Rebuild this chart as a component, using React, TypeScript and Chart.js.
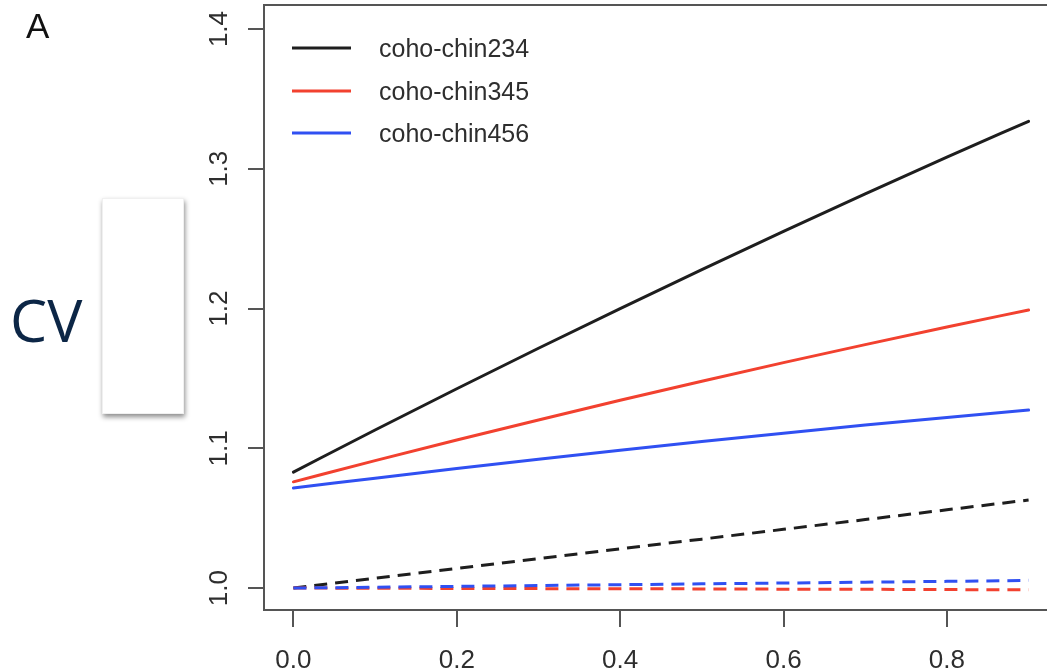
import React, { useEffect, useRef } from "react";
import { Chart, registerables } from "chart.js";

Chart.register(...registerables);

const X_VALUES = [0, 0.1, 0.2, 0.3, 0.4, 0.5, 0.6, 0.7, 0.8, 0.9];
const SOLID_234 = [1.083, 1.1131, 1.1426, 1.1716, 1.2, 1.2279, 1.2552, 1.2821, 1.3083, 1.334];
const SOLID_345 = [1.076, 1.0912, 1.1059, 1.1203, 1.1344, 1.148, 1.1613, 1.1742, 1.1868, 1.199];
const SOLID_456 = [1.0716, 1.0786, 1.0856, 1.0922, 1.0986, 1.1048, 1.1108, 1.1166, 1.1221, 1.1274];
const DASH_234 = [1.0, 1.007, 1.014, 1.021, 1.028, 1.035, 1.042, 1.049, 1.056, 1.063];
const DASH_345 = [1.0, 0.9999, 0.9997, 0.9996, 0.9995, 0.9994, 0.9992, 0.9991, 0.9989, 0.9988];
const DASH_456 = [1.0, 1.0006, 1.0012, 1.0018, 1.0024, 1.003, 1.0036, 1.0042, 1.0048, 1.0055];
const SERIES_LABELS = ["coho-chin234", "coho-chin345", "coho-chin456"];
const SERIES_COLORS = ["#1e1e1e", "#f2412f", "#3050f2"];
const X_TICKS = [0, 0.2, 0.4, 0.6, 0.8];
const Y_TICKS = [1.0, 1.1, 1.2, 1.3, 1.4];
const PANEL_LETTER = "A";
const Y_TITLE = "CV";

const RFONT = '"Liberation Sans", Arial, Helvetica, sans-serif';

const pts = (ys: number[]) => X_VALUES.map((x, i) => ({ x, y: ys[i] }));

const decorPlugin = {
  id: "decor",
  afterDatasetsDraw(chart: any) {
    const ctx = chart.ctx as CanvasRenderingContext2D;
    const { left, right, top, bottom } = chart.chartArea;
    const xs = chart.scales.x;
    const ys = chart.scales.y;
    ctx.save();
    // box
    ctx.strokeStyle = "#555";
    ctx.lineWidth = 2;
    ctx.strokeRect(left, top, right - left, bottom - top);
    // axis ticks
    ctx.beginPath();
    X_TICKS.forEach((v) => {
      const px = Math.round(xs.getPixelForValue(v));
      ctx.moveTo(px, bottom);
      ctx.lineTo(px, bottom + 17);
    });
    Y_TICKS.forEach((v) => {
      const py = Math.round(ys.getPixelForValue(v));
      ctx.moveTo(left, py);
      ctx.lineTo(left - 16, py);
    });
    ctx.stroke();
    // tick labels
    ctx.fillStyle = "#2e2e2e";
    ctx.font = `26px ${RFONT}`;
    ctx.textAlign = "center";
    ctx.textBaseline = "alphabetic";
    X_TICKS.forEach((v) => {
      ctx.fillText(v.toFixed(1), xs.getPixelForValue(v), 668);
    });
    Y_TICKS.forEach((v) => {
      ctx.save();
      ctx.translate(227, ys.getPixelForValue(v));
      ctx.rotate(-Math.PI / 2);
      ctx.fillText(v.toFixed(1), 0, 0);
      ctx.restore();
    });
    // legend
    const legendY = [48, 91, 133];
    ctx.textAlign = "left";
    ctx.font = `25px ${RFONT}`;
    SERIES_LABELS.forEach((lab, i) => {
      ctx.strokeStyle = SERIES_COLORS[i];
      ctx.lineWidth = 3;
      ctx.beginPath();
      ctx.moveTo(292, legendY[i]);
      ctx.lineTo(351, legendY[i]);
      ctx.stroke();
      ctx.fillStyle = "#2e2e2e";
      ctx.fillText(lab, 379, legendY[i] + 9);
    });
    // panel letter
    ctx.fillStyle = "#111";
    ctx.font = `35px ${RFONT}`;
    ctx.fillText(PANEL_LETTER, 26, 38);
    // y title
    ctx.fillStyle = "#0c2646";
    ctx.font = `59px "Open Sans", "Noto Sans", sans-serif`;
    ctx.fillText(Y_TITLE, 10, 342);
    // white box with shadow
    ctx.save();
    ctx.shadowColor = "rgba(0,0,0,0.45)";
    ctx.shadowBlur = 5;
    ctx.shadowOffsetX = 1;
    ctx.shadowOffsetY = 3;
    ctx.fillStyle = "#ffffff";
    ctx.fillRect(102, 198, 82, 216);
    ctx.restore();
    ctx.strokeStyle = "rgba(0,0,0,0.06)";
    ctx.lineWidth = 1;
    ctx.strokeRect(102.5, 198.5, 81, 215);
    ctx.restore();
  },
};

export default function App() {
  const ref = useRef<HTMLCanvasElement | null>(null);
  useEffect(() => {
    if (!ref.current) return;
    const solid = (data: number[], i: number, order: number) => ({
      label: SERIES_LABELS[i],
      data: pts(data),
      borderColor: SERIES_COLORS[i],
      borderWidth: 3,
      borderCapStyle: "round" as const,
      pointRadius: 0,
      cubicInterpolationMode: "monotone" as const,
      fill: false,
      order,
    });
    const dashed = (data: number[], i: number, order: number) => ({
      label: SERIES_LABELS[i] + " (dashed)",
      data: pts(data),
      borderColor: SERIES_COLORS[i],
      borderWidth: 3,
      borderDash: [13, 8],
      borderCapStyle: "butt" as const,
      pointRadius: 0,
      tension: 0,
      fill: false,
      order,
    });
    const chart = new Chart(ref.current, {
      type: "line",
      data: {
        datasets: [
          solid(SOLID_234, 0, 2),
          solid(SOLID_345, 1, 1),
          solid(SOLID_456, 2, 0),
          dashed(DASH_234, 0, 5),
          dashed(DASH_345, 1, 4),
          dashed(DASH_456, 2, 3),
        ],
      },
      options: {
        animation: false,
        responsive: false,
        devicePixelRatio: 1,
        layout: { padding: { left: 264, top: 5, right: 22, bottom: 61 } },
        plugins: { legend: { display: false }, tooltip: { enabled: false } },
        scales: {
          x: { type: "linear", display: false, min: -0.036, max: 0.936 },
          y: { type: "linear", display: false, min: 0.9843, max: 1.4172 },
        },
      },
      plugins: [decorPlugin],
    });
    return () => chart.destroy();
  }, []);
  return (
    <div
      style={{
        position: "fixed",
        left: 0,
        top: 0,
        width: 1047,
        height: 671,
        overflow: "hidden",
        background: "#fff",
      }}
    >
      <canvas ref={ref} width={1080} height={671} style={{ display: "block" }} />
    </div>
  );
}
